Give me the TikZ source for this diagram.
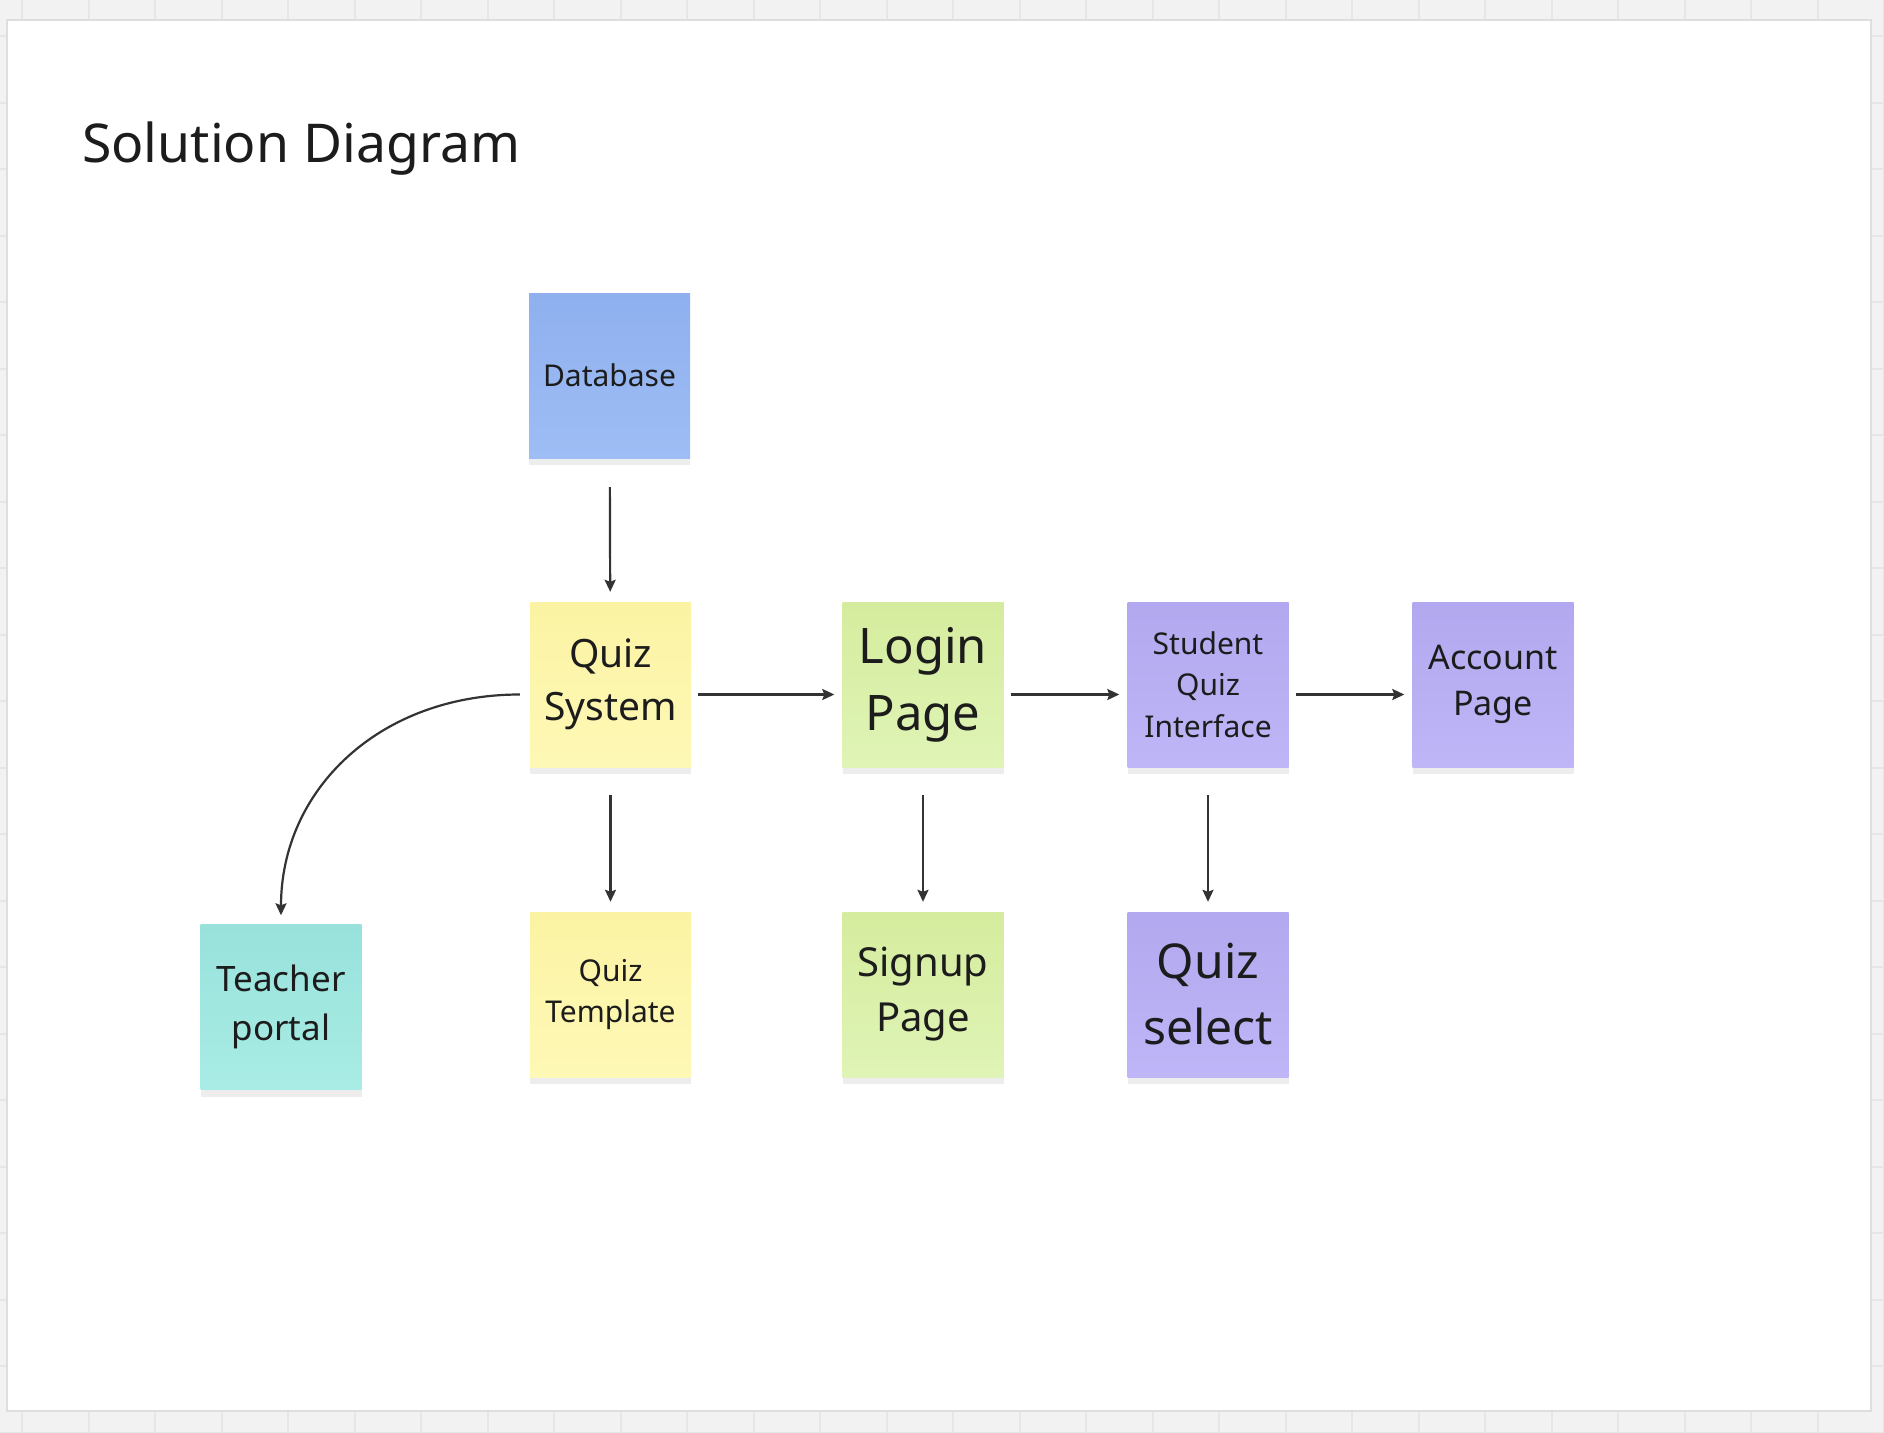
\documentclass[tikz,border=0pt]{standalone}
\usepackage{fontspec}
\setmainfont{Noto Sans}
\usetikzlibrary{arrows.meta,shadows}

\definecolor{bggrey}{HTML}{F2F2F2}
\definecolor{gridgrey}{HTML}{E6E6E6}
\definecolor{framegrey}{HTML}{DEDEDE}
\definecolor{inkc}{HTML}{1C1C1C}
\definecolor{linec}{HTML}{333333}
\definecolor{dbtop}{HTML}{8EB0EE}
\definecolor{dbbot}{HTML}{9EBDF5}
\definecolor{yeltop}{HTML}{FBF3A3}
\definecolor{yelbot}{HTML}{FEF8B6}
\definecolor{grntop}{HTML}{D5EC9E}
\definecolor{grnbot}{HTML}{DFF4B6}
\definecolor{purtop}{HTML}{B2A8EF}
\definecolor{purbot}{HTML}{BEB6F7}
\definecolor{teatop}{HTML}{98E2DB}
\definecolor{teabot}{HTML}{A8ECE5}

\begin{document}
\begin{tikzpicture}[x=1pt,y=-1pt]

\tikzstyle{note}=[rectangle, minimum width=161pt, minimum height=165pt, inner sep=0pt, align=center, text=inkc, drop shadow={shadow xshift=0pt, shadow yshift=-7pt, opacity=0.07, fill=black}]
\tikzstyle{arrow}=[-{Stealth[length=12pt, width=11pt, inset=2pt]}, line width=2.2pt, draw=linec]
\tikzstyle{downarrow}=[arrow, shorten <=28pt, shorten >=10pt]
\tikzstyle{sidearrow}=[arrow, shorten <=7pt, shorten >=8pt]

\useasboundingbox (0,0) rectangle (1884,1432);

% board background
\fill [bggrey] (0,0) rectangle (1884,1432);
\foreach \gx in {0,...,28} \draw [gridgrey, line width=2pt] (22+66.5*\gx,0) -- ++(0,1432);
\foreach \gy in {0,...,21} \draw [gridgrey, line width=2pt] (0,36+66.5*\gy) -- ++(1884,0);
\filldraw [fill=white, draw=framegrey, line width=2pt] (7,20) rectangle (1871,1411);

\node (title) [anchor=base west, inner sep=0pt, text=inkc, font={\fontsize{53.5}{70}\selectfont}] at (82,162) {Solution Diagram};

% sticky notes
\node (db) [note, top color=dbtop, bottom color=dbbot, font={\fontsize{30}{41}\selectfont}] at (609.5,375.5) {Database};

\node (qsys) [note, top color=yeltop, bottom color=yelbot, font={\fontsize{39}{53}\selectfont}] at (610.5,684.5) {Quiz\\System};
\node (login) [note, top color=grntop, bottom color=grnbot, font={\fontsize{49}{67}\selectfont}] at (923,684.5) {Login\\Page};
\node (sqi) [note, top color=purtop, bottom color=purbot, font={\fontsize{30}{41.5}\selectfont}] at (1208,684.5) {Student\\Quiz\\Interface};
\node (account) [note, top color=purtop, bottom color=purbot, font={\fontsize{34}{46}\selectfont}] at (1493,684.5) {Account\\Page};

\node (teacher) [note, top color=teatop, bottom color=teabot, font={\fontsize{35}{49}\selectfont}] at (281,1007) {Teacher\\portal};
\node (qtemplate) [note, top color=yeltop, bottom color=yelbot, font={\fontsize{30}{41.5}\selectfont}] at (610.5,994.5) {Quiz\\Template};
\node (signup) [note, top color=grntop, bottom color=grnbot, font={\fontsize{40}{55}\selectfont}] at (923,994.5) {Signup\\Page};
\node (qselect) [note, top color=purtop, bottom color=purbot, font={\fontsize{48}{66}\selectfont}] at (1208,994.5) {Quiz\\select};

% connectors
\draw [arrow, shorten <=29pt, shorten >=10pt] (db) -- (qsys);

\draw [sidearrow] ([yshift=-10pt]qsys.east) -- ([yshift=-10pt]login.west);
\draw [sidearrow] ([yshift=-10pt]login.east) -- ([yshift=-10pt]sqi.west);
\draw [sidearrow] ([yshift=-10pt]sqi.east) -- ([yshift=-10pt]account.west);

\draw [downarrow] (qsys) -- (qtemplate);
\draw [downarrow] (login) -- (signup);
\draw [downarrow] (sqi) -- (qselect);

\draw [arrow, shorten <=10pt, shorten >=9pt] ([yshift=-10pt]qsys.west) .. controls +(-150,0) and +(0,-135) .. (teacher.north);

\end{tikzpicture}
\end{document}
